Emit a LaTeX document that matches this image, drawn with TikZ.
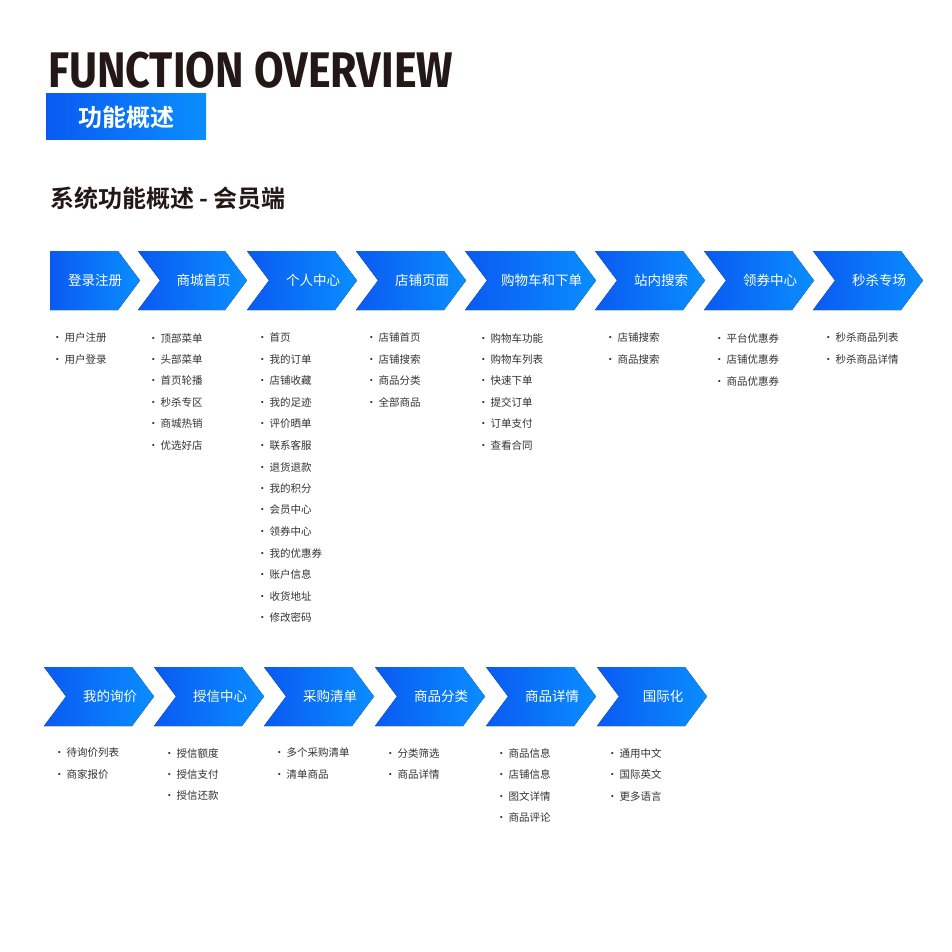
\documentclass[tikz,border=0pt]{standalone}
\usepackage{fontspec}
\setmainfont{Noto Sans CJK SC}
\newfontfamily\cjkb{Noto Sans CJK SC Bold}
\newfontfamily\titlef{Fira Sans Bold}
\usetikzlibrary{positioning}
\definecolor{bdark}{HTML}{0A5AF2}
\definecolor{blight}{HTML}{0A8EFF}
\definecolor{txt}{HTML}{333333}
\definecolor{head}{HTML}{231815}
\tikzset{
  chev/.style={left color=bdark,right color=blight,draw=none},
  lbl/.style={text=white,font=\fontsize{13.5}{14}\selectfont,anchor=center,inner sep=0},
  item/.style={text=txt,font=\fontsize{10.5}{12}\selectfont,anchor=west,inner sep=0},
}
\newcommand{\chevron}[6]{% name, x0, x1, ytop, notch?, label
  \ifnum#5=1
    \fill[chev] (#2,#4) -- (#3-22,#4) -- (#3,#4+29.5) -- (#3-22,#4+59) -- (#2,#4+59) -- (#2+22,#4+29.5) -- cycle;
    \node[lbl] (#1) at ({(#2+#3)/2+11},#4+29.5) {#6};
  \else
    \fill[chev] (#2,#4) -- (#3-22,#4) -- (#3,#4+29.5) -- (#3-22,#4+59) -- (#2,#4+59) -- cycle;
    \node[lbl] (#1) at ({(#2+#3)/2},#4+29.5) {#6};
  \fi}
\newcommand{\items}[4]{% name, x, ystart, list
  \foreach \t [count=\i] in {#4} {
    \node[item] (#1\i) at (#2,{#3+(\i-1)*21.5}) {·\hspace{2pt}\t};
  }}
\begin{document}
\begin{tikzpicture}[x=1pt,y=-1pt]
\useasboundingbox[fill=white] (0,0) rectangle (952,952);
\node[anchor=base west,inner sep=0,text=head,font=\titlef\fontsize{50}{50}\selectfont] (title) at (48,88) {\scalebox{0.86}[1]{FUNCTION OVERVIEW}};
\fill[left color=bdark,right color=blight] (46,94) rectangle (206,140);
\node[text=white,font=\cjkb\fontsize{24}{24}\selectfont,inner sep=0] (sub) at (126,117) {功能概述};
\node[anchor=west,text=head,font=\cjkb\fontsize{24}{24}\selectfont,inner sep=0] (sec) at (50,198) {系统功能概述 - 会员端};
\chevron{a1}{50}{140}{251}{0}{登录注册}
\chevron{a2}{138}{247}{251}{1}{商城首页}
\chevron{a3}{247}{357}{251}{1}{个人中心}
\chevron{a4}{356}{466}{251}{1}{店铺页面}
\chevron{a5}{465}{596}{251}{1}{购物车和下单}
\chevron{a6}{595}{705}{251}{1}{站内搜索}
\chevron{a7}{704}{814}{251}{1}{领券中心}
\chevron{a8}{813}{923}{251}{1}{秒杀专场}
\items{i1}{52}{338}{用户注册,用户登录}
\items{i2}{148}{338}{顶部菜单,头部菜单,首页轮播,秒杀专区,商城热销,优选好店}
\items{i3}{257}{338}{首页,我的订单,店铺收藏,我的足迹,评价晒单,联系客服,退货退款,我的积分,会员中心,领券中心,我的优惠券,账户信息,收货地址,修改密码}
\items{i4}{366}{338}{店铺首页,店铺搜索,商品分类,全部商品}
\items{i5}{478}{338}{购物车功能,购物车列表,快速下单,提交订单,订单支付,查看合同}
\items{i6}{605}{338}{店铺搜索,商品搜索}
\items{i7}{714}{338}{平台优惠券,店铺优惠券,商品优惠券}
\items{i8}{823}{338}{秒杀商品列表,秒杀商品详情}
\chevron{b1}{44}{154}{667}{1}{我的询价}
\chevron{b2}{154}{264}{667}{1}{授信中心}
\chevron{b3}{264}{374}{667}{1}{采购清单}
\chevron{b4}{375}{485}{667}{1}{商品分类}
\chevron{b5}{486}{596}{667}{1}{商品详情}
\chevron{b6}{597}{707}{667}{1}{国际化}
\items{j1}{54}{753}{待询价列表,商家报价}
\items{j2}{164}{753}{授信额度,授信支付,授信还款}
\items{j3}{274}{753}{多个采购清单,清单商品}
\items{j4}{385}{753}{分类筛选,商品详情}
\items{j5}{496}{753}{商品信息,店铺信息,图文详情,商品评论}
\items{j6}{607}{753}{通用中文,国际英文,更多语言}
\end{tikzpicture}
\end{document}
